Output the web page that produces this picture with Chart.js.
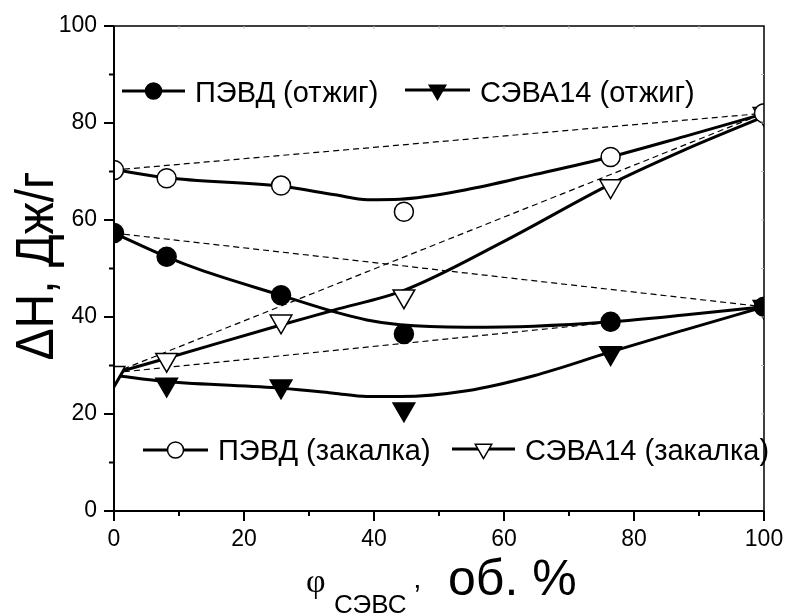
<!DOCTYPE html>
<html>
<head>
<meta charset="utf-8">
<script src="https://cdn.jsdelivr.net/npm/chart.js@4"></script>
<style>
  html, body { margin: 0; padding: 0; background: #fff; overflow: hidden; }
  #wrap { width: 789px; height: 615px; }
  canvas { display: block; }
</style>
</head>
<body>
<div id="wrap"><canvas id="myChart" width="789" height="615"></canvas></div>
<script>
/* measured points, phi in vol.% */
var phi = [0, 8.1, 25.7, 44.6, 76.4, 100];
var pevdQuench = [70.3, 68.6, 67.1, 61.7, 73.0, 82.0];
var pevdAnneal = [57.3, 52.4, 44.5, 36.5, 39.0, 42.1];
var sevaAnneal = [27.9, 26.1, 25.7, 21.0, 32.6, 42.1];
var sevaQuench = [28.5, 31.2, 39.1, 44.3, 67.0, 81.9];

/* smooth fitted curves */
var curvePevdQX = [0, 8, 25.5, 34, 39, 44, 54, 64.5, 76.3, 87.7, 100];
var curvePevdQY = [70.4, 68.7, 67.0, 65.2, 64.2, 64.3, 66.2, 69.3, 73.0, 77.2, 81.9];
var curvePevdAX = [0, 8.1, 13.3, 25.6, 33.8, 38.9, 44, 54.3, 64.6, 76.4, 87.7, 100];
var curvePevdAY = [57.3, 52.4, 49.7, 44.5, 41.1, 39.4, 38.4, 37.9, 38.1, 39.0, 40.4, 42.1];
var curveSevaAX = [0, 8.1, 25.8, 33.8, 38.9, 44, 54.3, 64.6, 76.4, 87.7, 100];
var curveSevaAY = [28.0, 26.7, 25.3, 24.3, 23.6, 23.6, 24.8, 27.9, 32.8, 37.3, 42.1];
var curveSevaQX = [0, 8.1, 25.8, 33.8, 44.8, 60, 76.4, 87.7, 100];
var curveSevaQY = [28.4, 31.5, 38.4, 41.4, 45.6, 55.6, 67.4, 74.4, 81.3];

/* additivity (dashed) lines: end values */
var additiveEnds = [[70.3, 82.0], [57.3, 42.1], [28.5, 82.0], [28.5, 42.1]];

var xTicks = [0, 20, 40, 60, 80, 100];
var yTicks = [0, 20, 40, 60, 80, 100];

var legendNames = ['ПЭВД (отжиг)', 'СЭВА14 (отжиг)', 'ПЭВД (закалка)', 'СЭВА14 (закалка)'];

function toXY(xs, ys) {
  return xs.map(function(x, i) { return {x: x, y: ys[i]}; });
}

function markerSet(ys, style, fill, radius) {
  return {
    type: 'scatter',
    data: toXY(phi, ys),
    showLine: false,
    pointStyle: style,
    pointRotation: style === 'triangle' ? 180 : 0,
    pointRadius: radius,
    pointHoverRadius: radius,
    pointBackgroundColor: fill,
    pointBorderColor: '#000',
    pointBorderWidth: 1.5,
    clip: 0,
    order: 0
  };
}

function curveSet(xs, ys) {
  return {
    type: 'line',
    data: toXY(xs, ys),
    borderColor: '#000',
    borderWidth: 3,
    pointRadius: 0,
    cubicInterpolationMode: 'monotone',
    fill: false,
    order: 1
  };
}

var datasets = [
  markerSet(pevdQuench, 'circle', '#fff', 9.5),
  markerSet(pevdAnneal, 'circle', '#000', 9.5),
  markerSet(sevaQuench, 'triangle', '#fff', 12.5),
  markerSet(sevaAnneal, 'triangle', '#000', 12.5),
  curveSet(curvePevdQX, curvePevdQY),
  curveSet(curvePevdAX, curvePevdAY),
  curveSet(curveSevaAX, curveSevaAY),
  curveSet(curveSevaQX, curveSevaQY)
];

additiveEnds.forEach(function(e) {
  datasets.push({
    type: 'line',
    data: [{x: 0, y: e[0]}, {x: 100, y: e[1]}],
    borderColor: '#000',
    borderWidth: 1.2,
    borderDash: [6, 4],
    pointRadius: 0,
    fill: false,
    order: 2
  });
});

function downTriangle(ctx, x, y, r, fill) {
  var s = r * Math.sin(Math.PI / 3);
  ctx.beginPath();
  ctx.moveTo(x, y + r);
  ctx.lineTo(x - s, y - r / 2);
  ctx.lineTo(x + s, y - r / 2);
  ctx.closePath();
  ctx.fillStyle = fill;
  ctx.fill();
  ctx.lineWidth = 1.5;
  ctx.strokeStyle = '#000';
  ctx.stroke();
}

function legendItem(ctx, x0, x1, y, marker, fill, text, tx, ty) {
  ctx.beginPath();
  ctx.moveTo(x0, y);
  ctx.lineTo(x1, y);
  ctx.lineWidth = 3;
  ctx.strokeStyle = '#000';
  ctx.stroke();
  var mx = (x0 + x1) / 2;
  if (marker === 'circle') {
    ctx.beginPath();
    ctx.arc(mx, y, 8, 0, Math.PI * 2);
    ctx.fillStyle = fill;
    ctx.fill();
    ctx.lineWidth = 1.5;
    ctx.stroke();
  } else {
    downTriangle(ctx, mx, y, 9.5, fill);
  }
  ctx.fillStyle = '#000';
  ctx.font = '29px "Liberation Sans", Arial, sans-serif';
  ctx.textAlign = 'left';
  ctx.textBaseline = 'alphabetic';
  ctx.fillText(text, tx, ty);
}

/* frame, minor ticks, legend and axis titles */
var decor = {
  id: 'decor',
  afterDraw: function(chart) {
    var ctx = chart.ctx;
    var a = chart.chartArea;
    var xs = chart.scales.x, ys = chart.scales.y;
    ctx.save();

    // thin top / right frame
    ctx.strokeStyle = '#000';
    ctx.lineWidth = 1.5;
    ctx.beginPath();
    ctx.moveTo(a.left, a.top);
    ctx.lineTo(a.right, a.top);
    ctx.lineTo(a.right, a.bottom);
    ctx.stroke();

    // faint inner ticks on top and right
    ctx.strokeStyle = '#bbb';
    ctx.lineWidth = 1;
    for (var v = 10; v < 100; v += 10) {
      var px = xs.getPixelForValue(v);
      var py = ys.getPixelForValue(v);
      ctx.beginPath();
      ctx.moveTo(px, a.top);
      ctx.lineTo(px, a.top + 3);
      ctx.moveTo(a.right, py);
      ctx.lineTo(a.right - 3, py);
      ctx.stroke();
    }

    // left / bottom axes with outward ticks
    ctx.strokeStyle = '#000';
    ctx.lineWidth = 2;
    ctx.beginPath();
    ctx.moveTo(a.left, a.top);
    ctx.lineTo(a.left, a.bottom);
    ctx.lineTo(a.right, a.bottom);
    ctx.stroke();
    for (var t = 0; t <= 100; t += 10) {
      var len = (t % 20 === 0) ? 10 : 5;
      var tx = xs.getPixelForValue(t);
      var ty = ys.getPixelForValue(t);
      ctx.beginPath();
      ctx.moveTo(tx, a.bottom);
      ctx.lineTo(tx, a.bottom + len);
      ctx.moveTo(a.left, ty);
      ctx.lineTo(a.left - len, ty);
      ctx.stroke();
    }

    // legend
    legendItem(ctx, 122, 185, 91, 'circle', '#000', legendNames[0], 195, 102);
    legendItem(ctx, 405, 470, 90, 'triangle', '#000', legendNames[1], 480, 102);
    legendItem(ctx, 143, 208, 450, 'circle', '#fff', legendNames[2], 218, 460);
    legendItem(ctx, 452, 515, 449, 'triangle', '#fff', legendNames[3], 525, 460);

    // y title
    ctx.fillStyle = '#000';
    ctx.save();
    ctx.translate(53, 266);
    ctx.rotate(-Math.PI / 2);
    ctx.scale(0.89, 1);
    ctx.font = '54px "Liberation Sans", Arial, sans-serif';
    ctx.textAlign = 'center';
    ctx.textBaseline = 'alphabetic';
    ctx.fillText('ΔH, Дж/г', 0, 0);
    ctx.restore();

    // x title with subscript
    ctx.textAlign = 'left';
    ctx.textBaseline = 'alphabetic';
    ctx.font = '34px "Liberation Serif", "Times New Roman", serif';
    ctx.fillText('φ', 306, 592);
    ctx.font = '26px "Liberation Sans", Arial, sans-serif';
    ctx.fillText('СЭВС', 334, 613);
    ctx.font = '30px "Liberation Sans", Arial, sans-serif';
    ctx.fillText('’', 414, 605);
    ctx.font = '50px "Liberation Sans", Arial, sans-serif';
    ctx.fillText('об. %', 448, 595);

    ctx.restore();
  }
};

var tickFont = {family: '"Liberation Sans", Arial, sans-serif', size: 23};
var hidden = 'rgba(0,0,0,0)';

var config = {
  type: 'scatter',
  data: {datasets: datasets},
  options: {
    responsive: false,
    animation: false,
    events: [],
    layout: {padding: {top: 26, right: 25, left: 0, bottom: 0}},
    plugins: {legend: {display: false}, tooltip: {enabled: false}},
    scales: {
      x: {
        type: 'linear',
        min: 0, max: 100,
        afterFit: function(scale) { scale.height = 104; },
        afterBuildTicks: function(scale) {
          scale.ticks = xTicks.map(function(v) { return {value: v}; });
        },
        ticks: {color: '#000', font: tickFont, padding: 0, maxRotation: 0},
        grid: {display: true, drawOnChartArea: false, drawTicks: true, tickLength: 15, color: hidden, tickColor: hidden},
        border: {display: false}
      },
      y: {
        type: 'linear',
        min: 0, max: 100,
        afterFit: function(scale) { scale.width = 114; },
        afterBuildTicks: function(scale) {
          scale.ticks = yTicks.map(function(v) { return {value: v}; });
        },
        ticks: {color: '#000', font: tickFont, padding: 0},
        grid: {display: true, drawOnChartArea: false, drawTicks: true, tickLength: 17, color: hidden, tickColor: hidden},
        border: {display: false}
      }
    }
  },
  plugins: [decor]
};

window.onload = function() {
  var ctx = document.getElementById('myChart').getContext('2d');
  window.dhChart = new Chart(ctx, config);
};
</script>
</body>
</html>
